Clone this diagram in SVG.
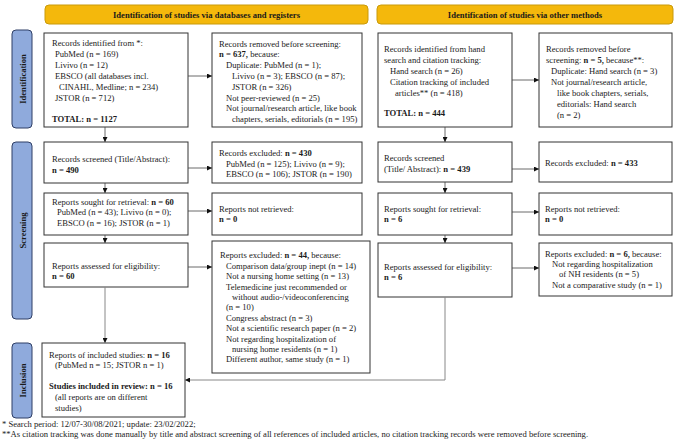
<svg xmlns="http://www.w3.org/2000/svg" width="677" height="446" viewBox="0 0 677 446">
<defs>
<marker id="ah" viewBox="0 0 10 10" refX="10" refY="5" markerWidth="5" markerHeight="5" orient="auto" markerUnits="userSpaceOnUse">
<path d="M0,0 L10,5 L0,10 z" fill="#111"/>
</marker>
<style>
.bg{fill:#fff}
.box{fill:#fff;stroke:#333;stroke-width:1}
.hdr{fill:#F4B80C;stroke:#C99A0A;stroke-width:1}
.side{fill:#8FAADC;stroke:#2F3F66;stroke-width:1}
.t{font-family:"Liberation Serif",serif;font-size:8.6px;fill:#1a1a1a}
.b{font-weight:bold}
.ht{font-family:"Liberation Serif",serif;font-size:8.6px;font-weight:bold;fill:#1a1a1a;text-anchor:middle}
.st{font-family:"Liberation Serif",serif;font-size:8.6px;font-weight:bold;fill:#1a1a1a;text-anchor:middle}
.c{fill:none;stroke:#444;stroke-width:0.8}
.cg{fill:none;stroke:#888;stroke-width:1}
</style>
</defs>
<rect class="bg" x="0" y="0" width="677" height="446"/>

<g id="header-left"><rect class="hdr" x="45" y="5" width="323" height="19" rx="4"/><text class="ht" x="206.5" y="18">Identification of studies via databases and registers</text></g>
<g id="header-right"><rect class="hdr" x="377" y="5" width="296" height="19" rx="4"/><text class="ht" x="525" y="18">Identification of studies via other methods</text></g>

<g id="side-identification"><rect class="side" x="12" y="30" width="20" height="98" rx="4"/><text class="st" transform="translate(25.5,79) rotate(-90)">Identification</text></g>
<g id="side-screening"><rect class="side" x="12" y="142" width="20" height="177" rx="4"/><text class="st" transform="translate(25.5,230.5) rotate(-90)">Screening</text></g>
<g id="side-inclusion"><rect class="side" x="12" y="343" width="20" height="75" rx="4"/><text class="st" transform="translate(25.5,380.5) rotate(-90)">Inclusion</text></g>

<g id="records-identified"><rect class="box" x="44" y="33" width="144" height="94"/>
<text class="t" x="52" y="46">Records identified from *:</text>
<text class="t" x="55" y="57">PubMed (n = 169)</text>
<text class="t" x="55" y="68">Livivo (n = 12)</text>
<text class="t" x="55" y="79">EBSCO (all databases incl.</text>
<text class="t" x="59" y="90">CINAHL, Medline; n = 234)</text>
<text class="t" x="55" y="101">JSTOR (n = 712)</text>
<text class="t b" x="52" y="122">TOTAL: n = 1127</text>
</g>
<g id="records-removed"><rect class="box" x="212" y="33" width="150" height="94"/>
<text class="t" x="219" y="46.5">Records removed before screening:</text>
<text class="t" x="219" y="57.3"><tspan class="b">n = 637,</tspan> because:</text>
<text class="t" x="226" y="68.1">Duplicate: PubMed (n = 1);</text>
<text class="t" x="232" y="78.9">Livivo (n = 3); EBSCO (n = 87);</text>
<text class="t" x="232" y="89.7">JSTOR (n = 326)</text>
<text class="t" x="226" y="100.5">Not peer-reviewed (n = 25)</text>
<text class="t" x="226" y="111.3">Not journal/research article, like book</text>
<text class="t" x="232" y="122.1">chapters, serials, editorials (n = 195)</text>
</g>
<g id="other-identified"><rect class="box" x="378" y="33" width="134" height="94"/>
<text class="t" x="384" y="52">Records identified from hand</text>
<text class="t" x="384" y="63">search and citation tracking:</text>
<text class="t" x="390" y="74">Hand search (n = 26)</text>
<text class="t" x="390" y="85">Citation tracking of included</text>
<text class="t" x="395" y="96">articles** (n = 418)</text>
<text class="t b" x="384" y="115.5">TOTAL: n = 444</text>
</g>
<g id="other-removed"><rect class="box" x="539" y="33" width="133" height="94"/>
<text class="t" x="546" y="52">Records removed before</text>
<text class="t" x="546" y="63">screening: <tspan class="b">n = 5,</tspan> because**:</text>
<text class="t" x="551" y="74">Duplicate: Hand search (n = 3)</text>
<text class="t" x="551" y="85">Not journal/research article,</text>
<text class="t" x="557" y="96">like book chapters, serials,</text>
<text class="t" x="557" y="107">editorials: Hand search</text>
<text class="t" x="557" y="118">(n = 2)</text>
</g>

<g id="records-screened"><rect class="box" x="44" y="142" width="144" height="41"/>
<text class="t" x="52" y="162">Records screened (Title/Abstract):</text>
<text class="t b" x="52" y="173">n = 490</text>
</g>
<g id="records-excluded"><rect class="box" x="212" y="142" width="150" height="41"/>
<text class="t" x="219" y="156">Records excluded: <tspan class="b">n = 430</tspan></text>
<text class="t" x="226" y="167">PubMed (n = 125); Livivo (n = 9);</text>
<text class="t" x="226" y="177">EBSCO (n = 106); JSTOR (n = 190)</text>
</g>
<g id="other-screened"><rect class="box" x="378" y="142" width="134" height="40"/>
<text class="t" x="384" y="161">Records screened</text>
<text class="t" x="384" y="172">(Title/ Abstract): <tspan class="b">n = 439</tspan></text>
</g>
<g id="other-excluded"><rect class="box" x="539" y="142" width="133" height="40"/>
<text class="t" x="545" y="166">Records excluded: <tspan class="b">n = 433</tspan></text>
</g>

<g id="reports-sought"><rect class="box" x="44" y="193" width="144" height="42"/>
<text class="t" x="52" y="205">Reports sought for retrieval: <tspan class="b">n = 60</tspan></text>
<text class="t" x="57" y="215">PubMed (n = 43); Livivo (n = 0);</text>
<text class="t" x="57" y="225.5">EBSCO (n = 16); JSTOR (n = 1)</text>
</g>
<g id="reports-not-retrieved"><rect class="box" x="212" y="193" width="150" height="42"/>
<text class="t" x="219" y="212">Reports not retrieved:</text>
<text class="t b" x="219" y="222">n = 0</text>
</g>
<g id="other-sought"><rect class="box" x="378" y="193" width="134" height="42"/>
<text class="t" x="384" y="212">Reports sought for retrieval:</text>
<text class="t b" x="384" y="222">n = 6</text>
</g>
<g id="other-not-retrieved"><rect class="box" x="539" y="193" width="133" height="42"/>
<text class="t" x="545" y="212">Reports not retrieved:</text>
<text class="t b" x="545" y="222">n = 0</text>
</g>

<g id="reports-assessed"><rect class="box" x="44" y="243" width="144" height="44"/>
<text class="t" x="52" y="269">Reports assessed for eligibility:</text>
<text class="t b" x="52" y="279">n = 60</text>
</g>
<g id="reports-excluded"><rect class="box" x="212" y="241" width="158" height="132"/>
<text class="t" x="220" y="258"><tspan>Reports excluded: </tspan><tspan class="b">n = 44,</tspan> because:</text>
<text class="t" x="226" y="268.5">Comparison data/group inept (n = 14)</text>
<text class="t" x="226" y="279">Not a nursing home setting (n = 13)</text>
<text class="t" x="226" y="289.5">Telemedicine just recommended or</text>
<text class="t" x="232" y="300">without audio-/videoconferencing</text>
<text class="t" x="226" y="310">(n = 10)</text>
<text class="t" x="226" y="320.5">Congress abstract (n = 3)</text>
<text class="t" x="226" y="331">Not a scientific research paper (n = 2)</text>
<text class="t" x="226" y="341.5">Not regarding hospitalization of</text>
<text class="t" x="232" y="352">nursing home residents (n = 1)</text>
<text class="t" x="226" y="362">Different author, same study (n = 1)</text>
</g>
<g id="other-assessed"><rect class="box" x="378" y="243" width="134" height="54"/>
<text class="t" x="384" y="270">Reports assessed for eligibility:</text>
<text class="t b" x="384" y="280">n = 6</text>
</g>
<g id="other-reports-excluded"><rect class="box" x="539" y="243" width="133" height="53"/>
<text class="t" x="545" y="257"><tspan>Reports excluded: </tspan><tspan class="b">n = 6,</tspan> because:</text>
<text class="t" x="552" y="266.5">Not regarding hospitalization</text>
<text class="t" x="559" y="277">of NH residents (n = 5)</text>
<text class="t" x="552" y="288">Not a comparative study (n = 1)</text>
</g>

<g id="included"><rect class="box" x="42" y="343" width="143" height="74"/>
<text class="t" x="49" y="358">Reports of included studies: <tspan class="b">n = 16</tspan></text>
<text class="t" x="55" y="368">(PubMed n = 15; JSTOR n = 1)</text>
<text class="t b" x="49" y="389">Studies included in review: n = 16</text>
<text class="t" x="55" y="399.5">(all reports are on different</text>
<text class="t" x="55" y="410.5">studies)</text>
</g>

<g id="connectors">
<line class="c" x1="188" y1="76" x2="212" y2="76" marker-end="url(#ah)"/>
<line class="c" x1="512" y1="80" x2="539" y2="80" marker-end="url(#ah)"/>
<line class="c" x1="105" y1="127" x2="105" y2="142" marker-end="url(#ah)"/>
<line class="c" x1="445" y1="127" x2="445" y2="142" marker-end="url(#ah)"/>
<line class="c" x1="188" y1="168" x2="212" y2="168" marker-end="url(#ah)"/>
<line class="c" x1="512" y1="169" x2="539" y2="169" marker-end="url(#ah)"/>
<line class="c" x1="105" y1="183" x2="105" y2="193" marker-end="url(#ah)"/>
<line class="c" x1="445" y1="182" x2="445" y2="193" marker-end="url(#ah)"/>
<line class="c" x1="188" y1="211" x2="212" y2="211" marker-end="url(#ah)"/>
<line class="c" x1="512" y1="212" x2="539" y2="212" marker-end="url(#ah)"/>
<line class="c" x1="105" y1="235" x2="105" y2="243" marker-end="url(#ah)"/>
<line class="c" x1="445" y1="235" x2="445" y2="243" marker-end="url(#ah)"/>
<line class="c" x1="188" y1="267" x2="212" y2="267" marker-end="url(#ah)"/>
<line class="c" x1="512" y1="268" x2="539" y2="268" marker-end="url(#ah)"/>
<line class="cg" x1="105" y1="287" x2="105" y2="343" marker-end="url(#ah)"/>
<polyline class="cg" points="445,297 445,380 185,380" marker-end="url(#ah)"/>
</g>

<g id="footnotes">
<text class="t" x="2" y="427">* Search period: 12/07-30/08/2021; update: 23/02/2022;</text>
<text class="t" x="2" y="437">**As citation tracking was done manually by title and abstract screening of all references of included articles, no citation tracking records were removed before screening.</text>
</g>
</svg>
